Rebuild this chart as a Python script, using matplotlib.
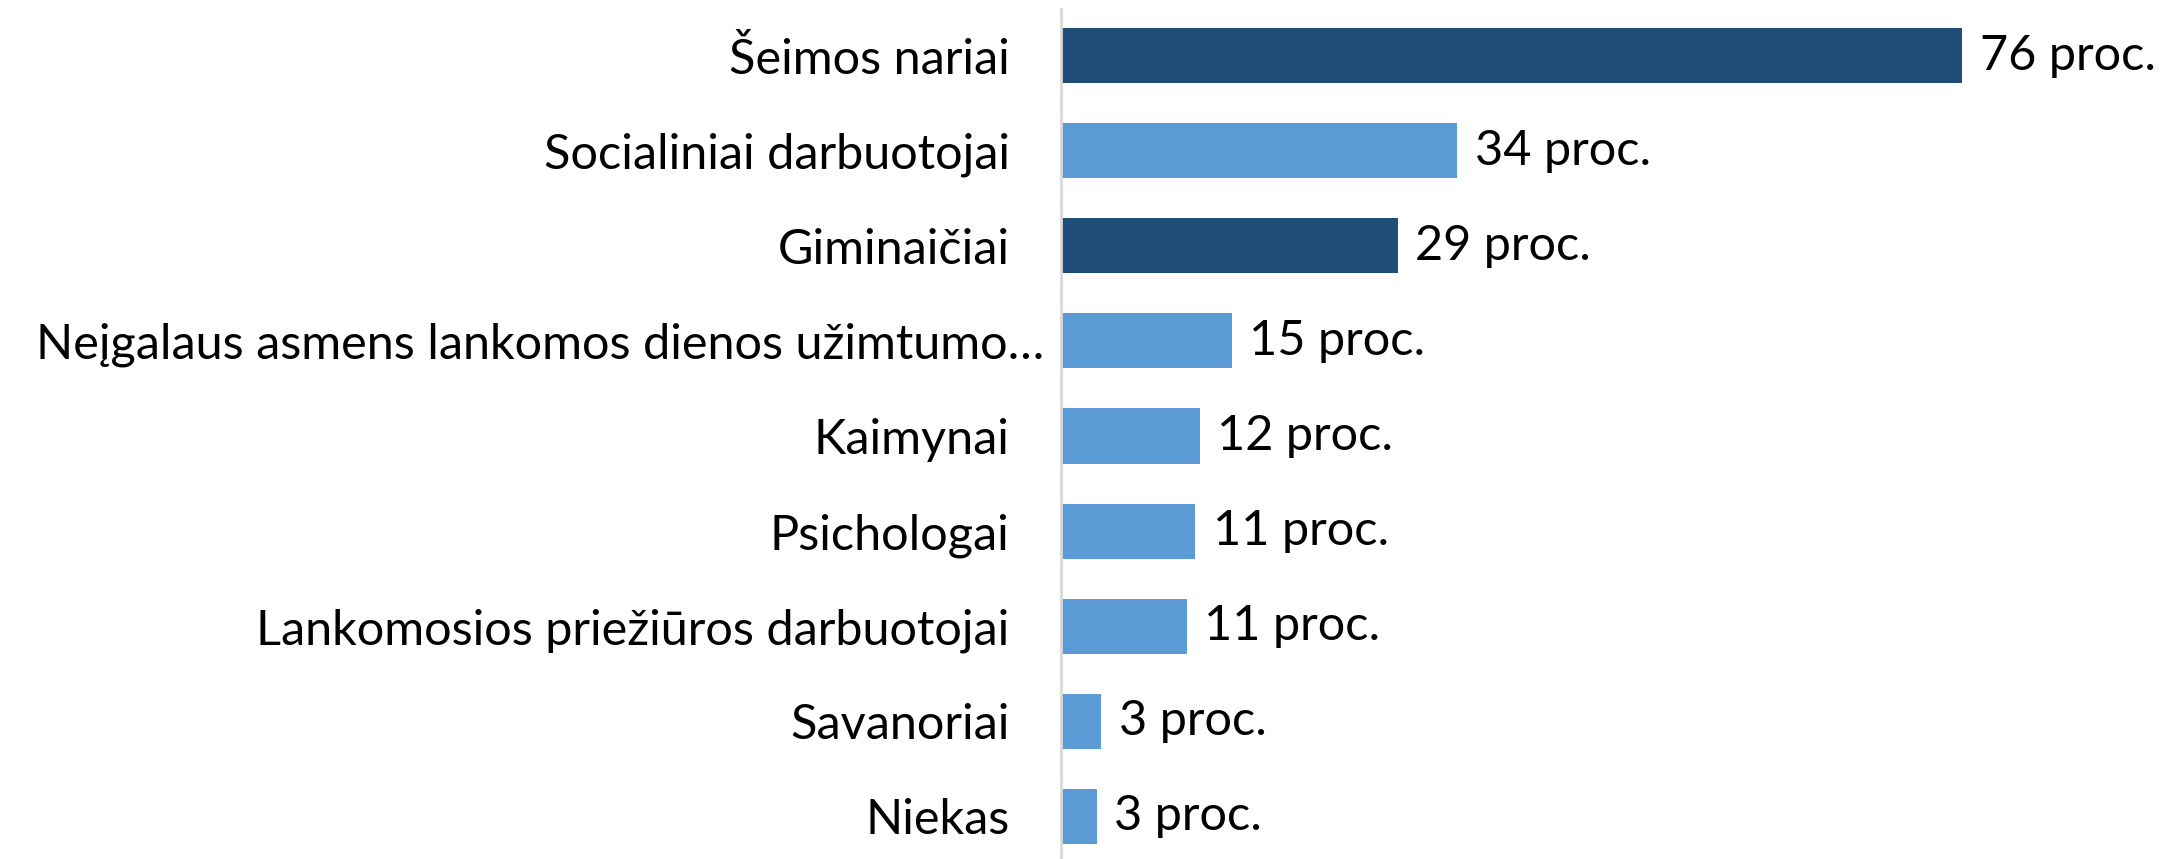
import matplotlib.pyplot as plt
from matplotlib.transforms import ScaledTranslation

# duomenys (nuskaityta nuo paveikslo)
categories = ["Šeimos nariai", "Socialiniai darbuotojai", "Giminaičiai",
              "Neįgalaus asmens lankomos dienos užimtumo…", "Kaimynai",
              "Psichologai", "Lankomosios priežiūros darbuotojai",
              "Savanoriai", "Niekas"]
values = [76, 33.4, 28.4, 14.4, 11.7, 11.3, 10.6, 3.4, 3.0]
value_labels = ["76 proc.", "34 proc.", "29 proc.", "15 proc.", "12 proc.",
                "11 proc.", "11 proc.", "3 proc.", "3 proc."]
highlight = [True, False, True, False, False, False, False, False, False]

dark = "#1F4E79"
light = "#5B9BD5"

plt.rcParams['font.family'] = ['Lato', 'DejaVu Sans']

fig = plt.figure(figsize=(21.77, 8.59), dpi=100)
ax = fig.add_axes([1061 / 2177, 0, 0.92 - 1061 / 2177 + 0.003, 850 / 859])

ypos = list(range(len(categories)))
colors = [dark if h else light for h in highlight]
ax.barh(ypos, values, height=0.58, color=colors)

for y, v, lab in zip(ypos, values, value_labels):
    ax.text(v + 1.5, y, lab, va="center", ha="left", fontsize=35, color="black")

ax.set_yticks(ypos)
ax.set_yticklabels(categories, fontsize=35)
ax.tick_params(axis="y", length=0, pad=37)
ax.set_xticks([])
ax.set_xlim(0, 80)
ax.set_ylim(8.447, -0.489)

# ilga etiketė išlenda arčiau ašies (kaip originale)
long_lab = ax.get_yticklabels()[3]
long_lab.set_transform(long_lab.get_transform() + ScaledTranslation(0.35, 0, fig.dpi_scale_trans))

for side in ["top", "right", "bottom"]:
    ax.spines[side].set_visible(False)
ax.spines["left"].set_color("#D9D9D9")
ax.spines["left"].set_linewidth(2)

fig.savefig("out.png", dpi=100)
